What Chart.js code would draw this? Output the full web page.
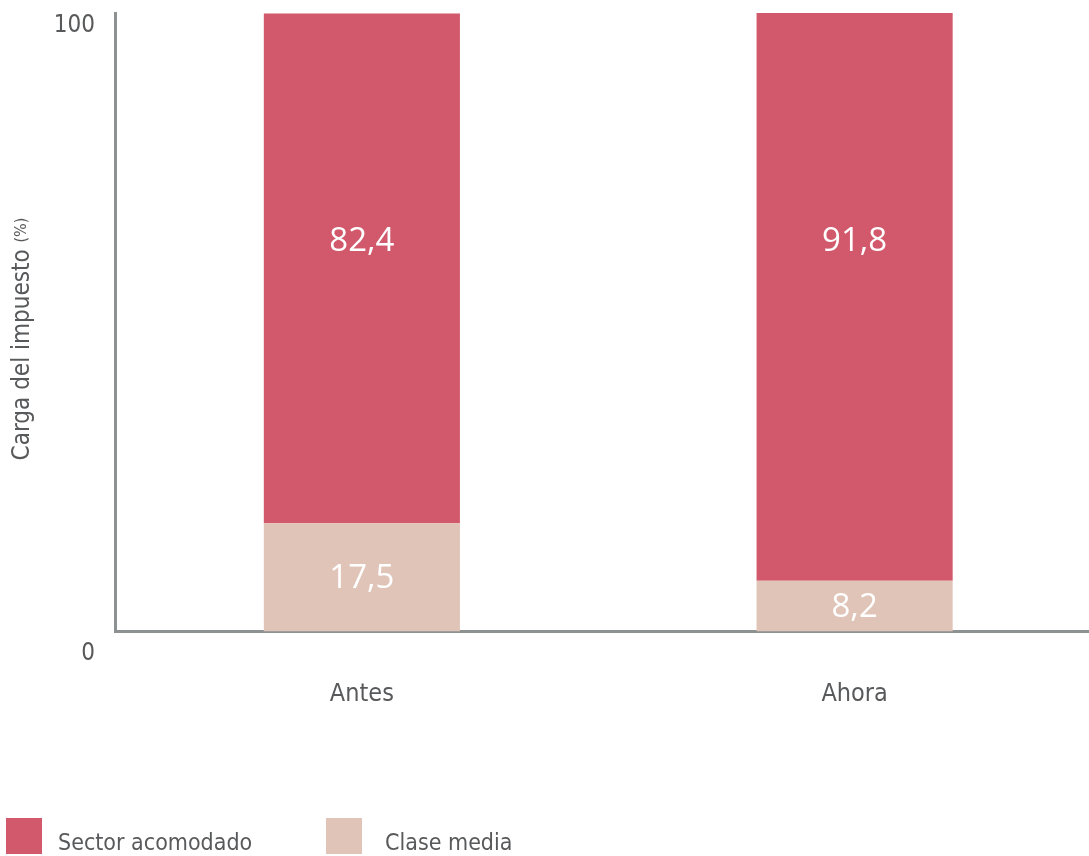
<!DOCTYPE html>
<html>
<head>
<meta charset="utf-8">
<script src="https://cdn.jsdelivr.net/npm/chart.js@4.4.1/dist/chart.umd.min.js"></script>
<style>
  html,body{margin:0;padding:0;background:#fff;overflow:hidden;}
  #wrap{position:relative;width:1101px;height:856px;}
  #legend{position:absolute;left:0;top:0;width:1089px;height:856px;pointer-events:none;}
  .lg-box{position:absolute;top:818px;width:36px;height:36px;}
  .lg-txt{position:absolute;top:827px;font-family:"Liberation Sans Narrow","DejaVu Sans Condensed",Roboto,sans-serif;font-size:23px;color:#58595b;line-height:30px;white-space:nowrap;}
</style>
</head>
<body>
<div id="wrap">
  <canvas id="c" width="1101" height="856"></canvas>
  <div id="legend"></div>
</div>
<script>
// data
const categories = ['Antes','Ahora'];
const claseMedia = [17.5, 8.2];
const sectorAcomodado = [82.4, 91.8];
const seriesNames = ['Sector acomodado','Clase media'];
const yTicks = [0, 100];
const yTitle = 'Carga del impuesto';
const yUnit = '(%)';

const RED = '#d2596b', BEIGE = '#e0c4b8', AXIS = '#8d9192', TXT = '#58595b';
const NARROW = '"Liberation Sans Narrow","DejaVu Sans Condensed",Roboto,sans-serif';
const fmt = v => v.toFixed(1).replace('.', ',');

// value labels, y tick labels and rotated axis title
const extras = {
  id:'extras',
  afterDatasetsDraw(chart){
    const ctx = chart.ctx, y = chart.scales.y;
    ctx.save();
    ctx.fillStyle = '#fff';
    ctx.font = '33px "Open Sans","Noto Sans",sans-serif';
    ctx.textAlign = 'center';
    ctx.textBaseline = 'middle';
    chart.getDatasetMeta(0).data.forEach((bar,i)=>{
      ctx.fillText(fmt(claseMedia[i]), bar.x, (bar.y+bar.base)/2 + 1);
    });
    chart.getDatasetMeta(1).data.forEach((bar,i)=>{
      ctx.fillText(fmt(sectorAcomodado[i]), bar.x, y.getPixelForValue(63.1));
    });
    // y tick labels
    ctx.fillStyle = TXT;
    ctx.font = '24px ' + NARROW;
    ctx.textAlign = 'right';
    yTicks.forEach(t=>{
      const off = t === 0 ? 22 : 13;
      ctx.fillText(String(t), 95, y.getPixelForValue(t) + off);
    });
    // y title
    ctx.translate(23, 339);
    ctx.rotate(-Math.PI/2);
    ctx.textAlign = 'left';
    ctx.font = '24px ' + NARROW;
    const w1 = ctx.measureText(yTitle + ' ').width;
    ctx.font = '16px ' + NARROW;
    const w2 = ctx.measureText(yUnit).width;
    const x0 = -(w1 + w2)/2;
    ctx.font = '24px ' + NARROW;
    ctx.fillText(yTitle + ' ', x0, 0);
    ctx.font = '16px ' + NARROW;
    ctx.fillText(yUnit, x0 + w1, -1);
    ctx.restore();
  }
};

new Chart(document.getElementById('c'), {
  type:'bar',
  data:{
    labels:categories,
    datasets:[
      {label:seriesNames[1], data:claseMedia, backgroundColor:BEIGE, borderWidth:0},
      {label:seriesNames[0], data:sectorAcomodado, backgroundColor:RED, borderWidth:0}
    ]
  },
  options:{
    responsive:false,
    animation:false,
    devicePixelRatio:1,
    layout:{padding:{top:13,right:0,bottom:0,left:0}},
    plugins:{legend:{display:false},tooltip:{enabled:false}},
    datasets:{bar:{categoryPercentage:1,barPercentage:0.398}},
    scales:{
      x:{
        stacked:true,
        grid:{display:false,drawTicks:false},
        border:{display:true,color:AXIS,width:3},
        ticks:{color:TXT,font:{family:NARROW,size:25},padding:48},
        afterFit(s){ s.height = 856 - 631.5; }
      },
      y:{
        stacked:true,
        min:0,max:100,
        grid:{display:false,drawTicks:false},
        border:{display:true,color:AXIS,width:3},
        ticks:{display:false},
        afterFit(s){ s.width = 115.5; }
      }
    }
  },
  plugins:[extras]
});

// legend
const lg = document.getElementById('legend');
[[seriesNames[0],RED,6,58],[seriesNames[1],BEIGE,326,385]].forEach(([name,col,bx,tx])=>{
  const b = document.createElement('div');
  b.className = 'lg-box'; b.style.left = bx+'px'; b.style.background = col;
  const t = document.createElement('div');
  t.className = 'lg-txt'; t.style.left = tx+'px'; t.textContent = name;
  lg.appendChild(b); lg.appendChild(t);
});
</script>
</body>
</html>
